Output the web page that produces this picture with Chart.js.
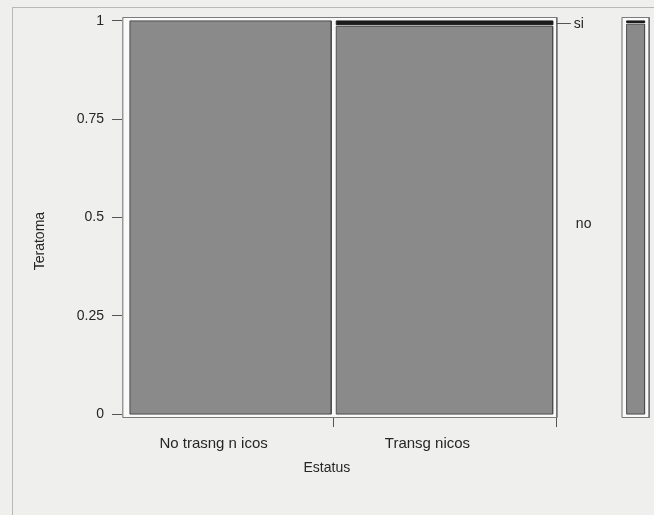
<!DOCTYPE html>
<html>
<head>
<meta charset="utf-8">
<script src="https://cdn.jsdelivr.net/npm/chart.js@4.4.1/dist/chart.umd.min.js"></script>
<style>
  html, body { margin: 0; padding: 0; background: #efefed; }
  #wrap { width: 654px; height: 515px; position: relative; overflow: hidden; }
</style>
</head>
<body>
<div id="wrap"><canvas id="spine" width="654" height="515"></canvas></div>
<script>
// Spineplot: Teratoma by Estatus

const status = ['No trasng n icos', 'Transg nicos'];
const teratoma = ['no', 'si'];
const countNo = [240, 255];
const countSi = [0, 3];
const yTicks = [0, 0.25, 0.5, 0.75, 1];
const yTickLabels = ['0', '0.25', '0.5', '0.75', '1'];
const xTitle = 'Estatus';
const yTitle = 'Teratoma';

// layout constants (data units of the x/y scales)
const GAP = 0.012;          // white space between columns
const VGAP = 0.004;         // white space between stacked tiles
const FRAME_L = -0.017;
const FRAME_PAD_R = 0.01;
const FRAME_PAD_Y = 0.009;
const MARG_OFFSET = 0.167;  // distance from main box to marginal bar
const MARG_W = 0.043;
const MARG_PAD = 0.011;

const FONT = '"Liberation Sans", Arial, sans-serif';
const TEXT = '#262626';
const BG = '#efefed';
const FRAME_FILL = '#fafafa';
const FRAME_LINE = '#6e6e6e';
const NO_FILL = '#8a8a8a';
const NO_LINE = '#4c4c4c';
const SI_FILL = '#1c1c1c';

// column geometry from the counts
const totals = countNo.map((n, i) => n + countSi[i]);
const grand = totals.reduce((a, b) => a + b, 0);
let cursor = 0;
const cols = totals.map((t, i) => {
    const x0 = cursor;
    const x1 = x0 + t / grand;
    cursor = x1 + GAP;
    return { x0, x1, pNo: countNo[i] / t };
});
const frameR = cols[cols.length - 1].x1 + FRAME_PAD_R;
const margX0 = frameR + MARG_OFFSET;
const margX1 = margX0 + MARG_W;
const margPNo = countNo.reduce((a, b) => a + b, 0) / grand;
const X_MIN = FRAME_L - 0.002;
const X_MAX = margX1 + MARG_PAD + 0.002;

const boundaries = [cols[0].x1 + GAP / 2, frameR];
const centers = cols.map(c => (c.x0 + c.x1) / 2);

function rect(x0, x1, y0, y1, fillColor, lineColor, order) {
    return [
        {
            data: [{ x: x0, y: y1 }, { x: x1, y: y1 }],
            fill: { value: y0 },
            backgroundColor: fillColor,
            borderColor: 'transparent',
            borderWidth: 0,
            pointRadius: 0,
            order: order
        },
        {
            data: [{ x: x0, y: y0 }, { x: x0, y: y1 }, { x: x1, y: y1 }, { x: x1, y: y0 }, { x: x0, y: y0 }],
            fill: false,
            borderColor: lineColor,
            borderWidth: 1,
            pointRadius: 0,
            order: order - 0.5
        }
    ];
}

let datasets = [];
// boxes
datasets = datasets.concat(rect(FRAME_L, frameR, -FRAME_PAD_Y, 1 + FRAME_PAD_Y, FRAME_FILL, FRAME_LINE, 10));
datasets = datasets.concat(rect(margX0 - MARG_PAD, margX1 + MARG_PAD, -FRAME_PAD_Y, 1 + FRAME_PAD_Y, FRAME_FILL, FRAME_LINE, 10));
// tiles
cols.forEach(c => {
    const splitLo = c.pNo < 1 ? c.pNo - VGAP / 2 : 1;
    datasets = datasets.concat(rect(c.x0, c.x1, 0, splitLo, NO_FILL, NO_LINE, 6));
    if (c.pNo < 1) {
        datasets = datasets.concat(rect(c.x0, c.x1, c.pNo + VGAP / 2, 1, SI_FILL, SI_FILL, 4));
    }
});
datasets = datasets.concat(rect(margX0, margX1, 0, margPNo - VGAP / 2, NO_FILL, NO_LINE, 6));
datasets = datasets.concat(rect(margX0, margX1, margPNo + VGAP / 2, 1, SI_FILL, SI_FILL, 4));

const decorations = {
    id: 'decorations',
    beforeDraw(chart) {
        const ctx = chart.ctx;
        ctx.save();
        ctx.fillStyle = BG;
        ctx.fillRect(0, 0, chart.width, chart.height);
        ctx.strokeStyle = '#b8b8b8';
        ctx.lineWidth = 1;
        ctx.strokeRect(12.5, 7.5, 700, 600);
        ctx.restore();
    },
    afterDraw(chart) {
        const ctx = chart.ctx;
        const xs = chart.scales.x;
        const ys = chart.scales.y;
        const last = cols[cols.length - 1];
        ctx.save();
        ctx.fillStyle = TEXT;
        ctx.font = '14px ' + FONT;
        ctx.textBaseline = 'middle';

        // right-hand level labels
        const rx = xs.getPixelForValue(frameR);
        const ySi = ys.getPixelForValue((last.pNo + 1) / 2);
        const yNo = ys.getPixelForValue(last.pNo / 2);
        ctx.textAlign = 'left';
        ctx.fillText(teratoma[1], rx + 17, ySi + 1);
        ctx.fillText(teratoma[0], rx + 19, yNo + 4);
        ctx.strokeStyle = '#555';
        ctx.beginPath();
        ctx.moveTo(rx, Math.round(ySi) + 0.5);
        ctx.lineTo(rx + 14, Math.round(ySi) + 0.5);
        ctx.stroke();

        // x title
        ctx.textAlign = 'center';
        ctx.fillText(xTitle, (xs.getPixelForValue(FRAME_L) + rx) / 2 - 13, 468);

        // y title
        ctx.font = '14px ' + FONT;
        ctx.translate(40, ys.getPixelForValue(0.44));
        ctx.rotate(-Math.PI / 2);
        ctx.fillText(yTitle, 0, 0);
        ctx.restore();
    }
};

new Chart(document.getElementById('spine'), {
    type: 'line',
    data: { datasets },
    options: {
        responsive: false,
        animation: false,
        events: [],
        layout: { padding: { left: 11, right: 4, top: 17, bottom: 57 } },
        plugins: {
            legend: { display: false },
            tooltip: { enabled: false }
        },
        scales: {
            x: {
                type: 'linear',
                position: 'bottom',
                min: X_MIN,
                max: X_MAX,
                afterBuildTicks: s => { s.ticks = boundaries.map(v => ({ value: v })); },
                afterFit: s => { s.height = 10; },
                ticks: { callback: () => '', font: { size: 1 } },
                grid: { drawOnChartArea: false, drawTicks: true, tickLength: 9, color: '#555' },
                border: { display: false }
            },
            xl: {
                type: 'linear',
                position: 'bottom',
                min: X_MIN,
                max: X_MAX,
                afterBuildTicks: s => { s.ticks = centers.map(v => ({ value: v })); },
                afterFit: s => { s.height = 30; },
                ticks: {
                    callback: (v, i) => status[i],
                    font: { size: 15, family: FONT },
                    color: TEXT,
                    padding: 7,
                    labelOffset: -17,
                    autoSkip: false,
                    maxRotation: 0
                },
                grid: { display: false, drawTicks: false },
                border: { display: false }
            },
            y: {
                min: -0.01,
                max: 1.01,
                afterBuildTicks: s => { s.ticks = yTicks.map(v => ({ value: v })); },
                afterFit: s => { s.width = 111; },
                ticks: {
                    callback: (v, i) => yTickLabels[i],
                    font: { size: 14, family: FONT },
                    color: TEXT,
                    padding: 8
                },
                grid: { drawOnChartArea: false, drawTicks: true, tickLength: 10, color: '#555' },
                border: { display: false }
            }
        }
    },
    plugins: [decorations]
});
</script>
</body>
</html>
